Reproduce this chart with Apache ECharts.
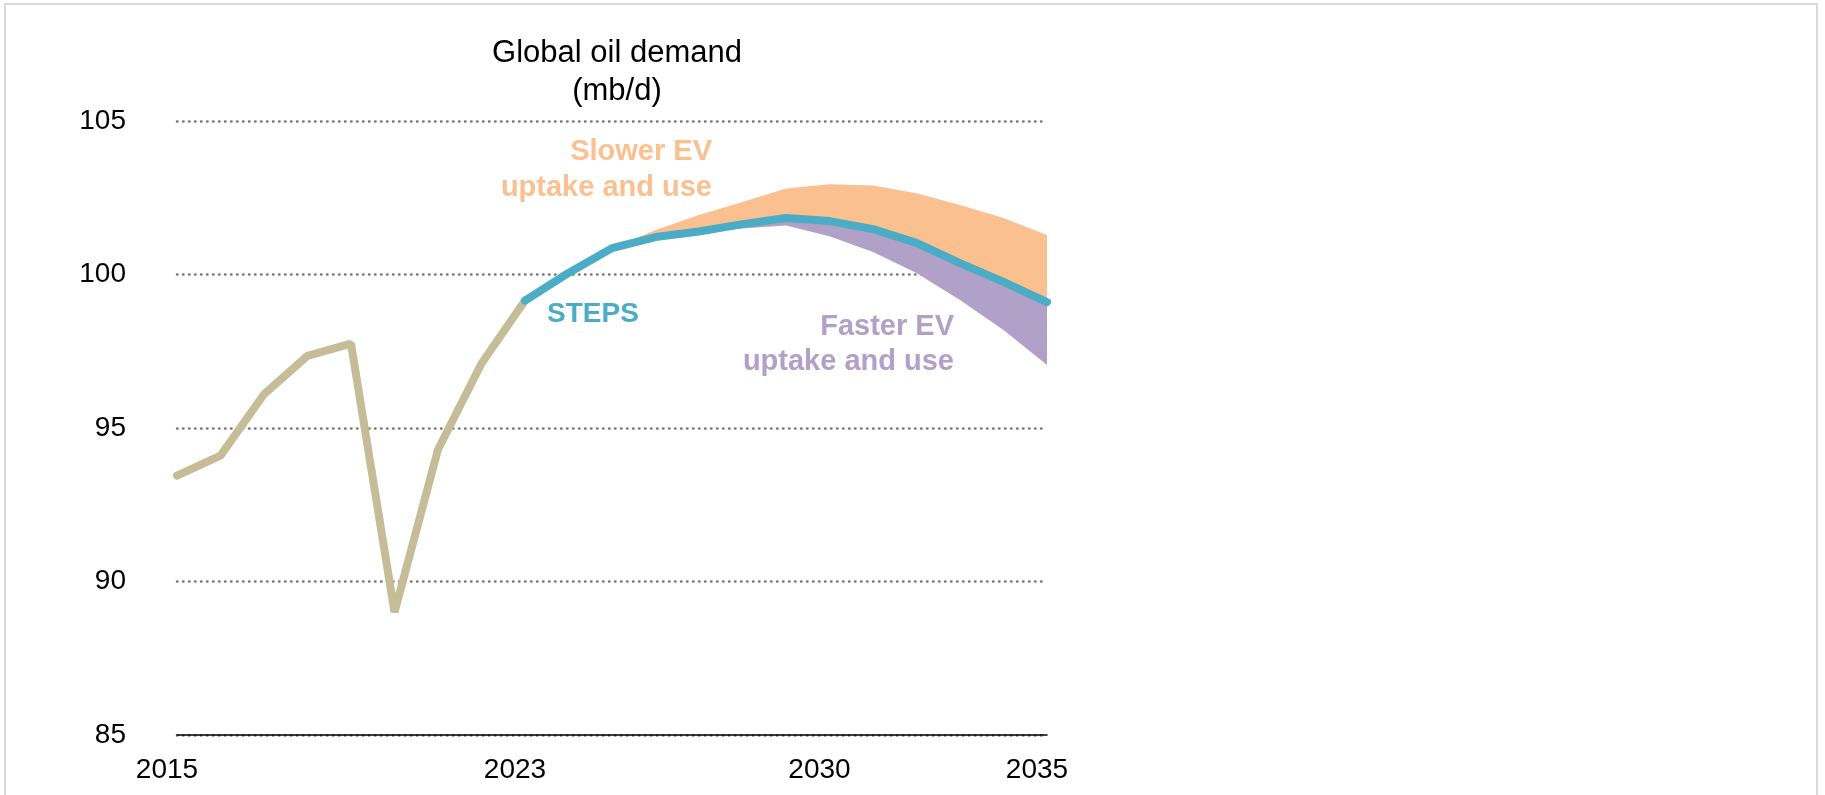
<!DOCTYPE html>
<html>
<head>
<meta charset="utf-8">
<title>Global oil demand</title>
<script src="https://cdn.jsdelivr.net/npm/echarts@6/dist/echarts.min.js"></script>
<style>
  html, body {
    margin: 0;
    padding: 0;
    background: #fff;
  }
  .frame {
    position: absolute;
    left: 4px;
    top: 3px;
    width: 1814px;
    height: 792px;
    border: 2px solid #d9d9d9;
    border-bottom: none;
    box-sizing: border-box;
  }
  #oilChart {
    position: absolute;
    left: 0;
    top: 0;
    width: 1825px;
    height: 795px;
  }
</style>
</head>
<body>
<div class="frame"></div>
<div id="oilChart"></div>
<script>
// years on the x axis, and which of them get a label
const years = ['2015', '2016', '2017', '2018', '2019', '2020', '2021', '2022', '2023', '2024', '2025',
  '2026', '2027', '2028', '2029', '2030', '2031', '2032', '2033', '2034', '2035']
const labelYears = ['2015', '2023', '2030', '2035']
const yTicks = [85, 90, 95, 100, 105]

// historical demand (mb/d), 2015-2023
const history = [93.45, 94.1, 96.1, 97.35, 97.75, 89.0, 94.3, 97.1, 99.15,
  null, null, null, null, null, null, null, null, null, null, null, null]
// STEPS, 2023-2035
const steps = [null, null, null, null, null, null, null, null, 99.15,
  100.05, 100.86, 101.22, 101.4, 101.64, 101.84, 101.74, 101.48, 101.03, 100.37, 99.76, 99.1]
// slower EV uptake and use (upper edge of the orange band)
const slowerEV = [null, null, null, null, null, null, null, null, null,
  null, 100.86, 101.45, 101.94, 102.36, 102.8, 102.94, 102.9, 102.65, 102.26, 101.84, 101.29]
// faster EV uptake and use (lower edge of the purple band)
const fasterEV = [null, null, null, null, null, null, null, null, null,
  null, 100.86, 101.18, 101.35, 101.5, 101.6, 101.25, 100.73, 100.05, 99.17, 98.19, 97.05]

const chart = echarts.init(document.getElementById('oilChart'))

const diff = (a, b) => a.map((v, i) => (v == null || b[i] == null ? null : +(v - b[i]).toFixed(3)))
const font = 'Liberation Sans, Arial, sans-serif'

// text block placed by its anchor point, each line aligned the same way
function note(x, y, text, color, size, lineHeight, align, bold) {
  return {
    type: 'text',
    x: x,
    y: y,
    silent: true,
    style: {
      text: text,
      fill: color,
      font: (bold ? 'bold ' : '') + size + 'px ' + font,
      lineHeight: lineHeight,
      align: align,
      textAlign: align,
      verticalAlign: 'top',
      textVerticalAlign: 'top',
    },
  }
}

const option = {
  animation: false,
  grid: {
    left: 177,
    right: 778,
    top: 121,
    bottom: 60,
  },
  xAxis: {
    type: 'category',
    data: years,
    boundaryGap: false,
    axisLine: {
      show: true,
      lineStyle: { color: '#000', width: 1.5 },
    },
    axisTick: { show: false },
    splitLine: { show: false },
    axisLabel: {
      interval: (idx, val) => labelYears.indexOf(val) >= 0,
      color: '#000',
      fontFamily: font,
      fontSize: 28,
      margin: 21,
      padding: [0, 20, 0, 0],
    },
  },
  yAxis: {
    type: 'value',
    min: yTicks[0],
    max: yTicks[yTicks.length - 1],
    interval: 5,
    axisLine: { show: false },
    axisTick: { show: false },
    axisLabel: {
      color: '#000',
      fontFamily: font,
      fontSize: 28,
      margin: 51,
    },
    splitLine: {
      lineStyle: {
        color: '#7a7a7a',
        width: 2.5,
        type: [0.5, 5.5],
        cap: 'round',
      },
    },
  },
  series: [
    {
      // invisible base for the band stack
      name: 'base',
      type: 'line',
      stack: 'band',
      data: fasterEV,
      symbol: 'none',
      lineStyle: { width: 0, opacity: 0 },
      silent: true,
    },
    {
      name: 'Faster EV uptake and use',
      type: 'line',
      stack: 'band',
      data: diff(steps, fasterEV),
      symbol: 'none',
      lineStyle: { width: 0, opacity: 0 },
      areaStyle: { color: '#b1a0c7', opacity: 1 },
    },
    {
      name: 'Slower EV uptake and use',
      type: 'line',
      stack: 'band',
      data: diff(slowerEV, steps),
      symbol: 'none',
      lineStyle: { width: 0, opacity: 0 },
      areaStyle: { color: '#fac090', opacity: 1 },
    },
    {
      name: 'History',
      type: 'line',
      data: history,
      symbol: 'none',
      lineStyle: { color: '#c4bd97', width: 8, cap: 'round' },
      z: 3,
    },
    {
      name: 'STEPS',
      type: 'line',
      data: steps,
      symbol: 'none',
      lineStyle: { color: '#4bacc6', width: 8, cap: 'round' },
      z: 4,
    },
  ],
  graphic: [
    note(617, 34, 'Global oil demand\n(mb/d)', '#000', 31, 38, 'center', false),
    note(712, 134, 'Slower EV\nuptake and use', '#fac090', 29, 36, 'right', true),
    note(547, 300, 'STEPS', '#4bacc6', 28, 28, 'left', true),
    note(954, 309, 'Faster EV\nuptake and use', '#b1a0c7', 29, 35, 'right', true),
  ],
}

chart.setOption(option)
</script>
</body>
</html>
